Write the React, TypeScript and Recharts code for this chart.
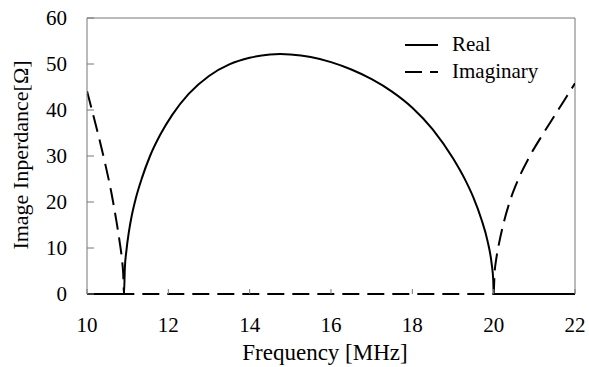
import React from 'react';
import { LineChart, Line, XAxis, YAxis, ReferenceLine, Legend } from 'recharts';

const realFreq = [10, 10.91, 10.93, 10.97, 11.03, 11.1, 11.2, 11.35, 11.55, 11.8, 12.1, 12.5, 13.0, 13.5, 14.0, 14.5, 14.75, 15.0, 15.5, 16.0, 16.5, 17.0, 17.5, 18.0, 18.5, 19.0, 19.3, 19.5, 19.7, 19.85, 19.95, 19.99, 20.0, 22];
const realValues = [0, 0, 5.5, 9.5, 13.5, 17, 20.8, 25.2, 30, 34.6, 39, 43.5, 47.4, 49.9, 51.35, 52.05, 52.15, 52.05, 51.5, 50.4, 48.8, 46.7, 44.0, 40.5, 35.8, 29.5, 24.8, 21.0, 16.2, 11.5, 6.6, 3.0, 0, 0];

const imagFreq = [10, 10.15, 10.3, 10.45, 10.6, 10.72, 10.8, 10.86, 10.89, 10.91, 20.0, 20.02, 20.06, 20.11, 20.25, 20.4, 20.6, 20.89, 21.2, 21.55, 21.8, 22];
const imagValues = [44.1, 39, 33.8, 28.2, 22, 16, 11.5, 7.5, 4.5, 0, 0, 4.2, 7.4, 10, 15.6, 20.2, 24.8, 30, 34.6, 39.5, 43.0, 45.8];

const xTicks = [10, 12, 14, 16, 18, 20, 22];
const yTicks = [0, 10, 20, 30, 40, 50, 60];
const seriesNames = ['Real', 'Imaginary'];
const xTitle = 'Frequency [MHz]';
const yTitle = 'Image Inperdance[Ω]';

const realData = realFreq.map((f, i) => ({ f, v: realValues[i] }));
const imagData = imagFreq.map((f, i) => ({ f, v: imagValues[i] }));

const FONT = '"Liberation Serif", "Times New Roman", Tinos, serif';
const GRAY = '#777';
const DASH = '17 8';

const renderLegend = (props: any) => {
  const payload = [...(props.payload || [])].sort(
    (a: any, b: any) => seriesNames.indexOf(a.value) - seriesNames.indexOf(b.value)
  );
  return (
    <div style={{ fontFamily: FONT, fontSize: 21, color: '#000' }}>
      {payload.map((entry: any, i: number) => (
        <div key={i} style={{ display: 'flex', alignItems: 'center', height: 27 }}>
          <svg width={33} height={4} style={{ display: 'block' }}>
            <line x1={0} y1={2} x2={33} y2={2} stroke="#000" strokeWidth={2}
              strokeDasharray={entry.payload && entry.payload.strokeDasharray ? entry.payload.strokeDasharray : undefined} />
          </svg>
          <span style={{ marginLeft: 14, lineHeight: '27px', fontFamily: FONT }}>{entry.value}</span>
        </div>
      ))}
    </div>
  );
};

const XTitle = (props: any) => {
  const vb = props.viewBox || {};
  return (
    <text x={vb.x + vb.width / 2 - 6} y={vb.y + vb.height - 7} textAnchor="middle"
      style={{ fontFamily: FONT }} fontSize={23} fill="#000">{xTitle}</text>
  );
};

const YTitle = (props: any) => {
  const vb = props.viewBox || {};
  const cx = vb.x + 20;
  const cy = vb.y + vb.height / 2 - 1;
  return (
    <text x={cx} y={cy} textAnchor="middle" dominantBaseline="central"
      transform={`rotate(-90, ${cx}, ${cy})`} style={{ fontFamily: FONT }} fontSize={22} fill="#000">{yTitle}</text>
  );
};

export default function App() {
  return (
    <div style={{ position: 'absolute', left: 0, top: 0, width: 589, height: 367, background: '#fff', fontFamily: FONT }}>
      <LineChart width={589} height={367} margin={{ top: 18, right: 14, bottom: 0, left: 0 }}>
        <XAxis type="number" dataKey="f" domain={[10, 22]} ticks={xTicks} allowDataOverflow
          axisLine={false} tickLine={{ stroke: GRAY }} tickSize={-5} tickMargin={28} height={73}
          tick={{ fill: '#000', fontSize: 21, style: { fontFamily: FONT } }} label={<XTitle />} />
        <YAxis type="number" domain={[0, 60]} ticks={yTicks} width={87}
          axisLine={{ stroke: GRAY }} tickLine={{ stroke: GRAY }} tickSize={-7} tickMargin={27}
          tick={{ fill: '#000', fontSize: 21, style: { fontFamily: FONT } }} label={<YTitle />} />
        <ReferenceLine y={60} stroke={GRAY} />
        <ReferenceLine x={22} stroke={GRAY} />
        <Line data={realData} dataKey="v" name={seriesNames[0]} type="monotone" stroke="#000"
          strokeWidth={2} dot={false} activeDot={false} isAnimationActive={false} />
        <Line data={imagData} dataKey="v" name={seriesNames[1]} type="monotone" stroke="#000"
          strokeWidth={2} strokeDasharray={DASH} dot={false} activeDot={false} isAnimationActive={false} />
        <Legend content={renderLegend} layout="vertical" align="center" verticalAlign="middle"
          wrapperStyle={{ left: 405, top: 31, width: 180 }} />
      </LineChart>
    </div>
  );
}
